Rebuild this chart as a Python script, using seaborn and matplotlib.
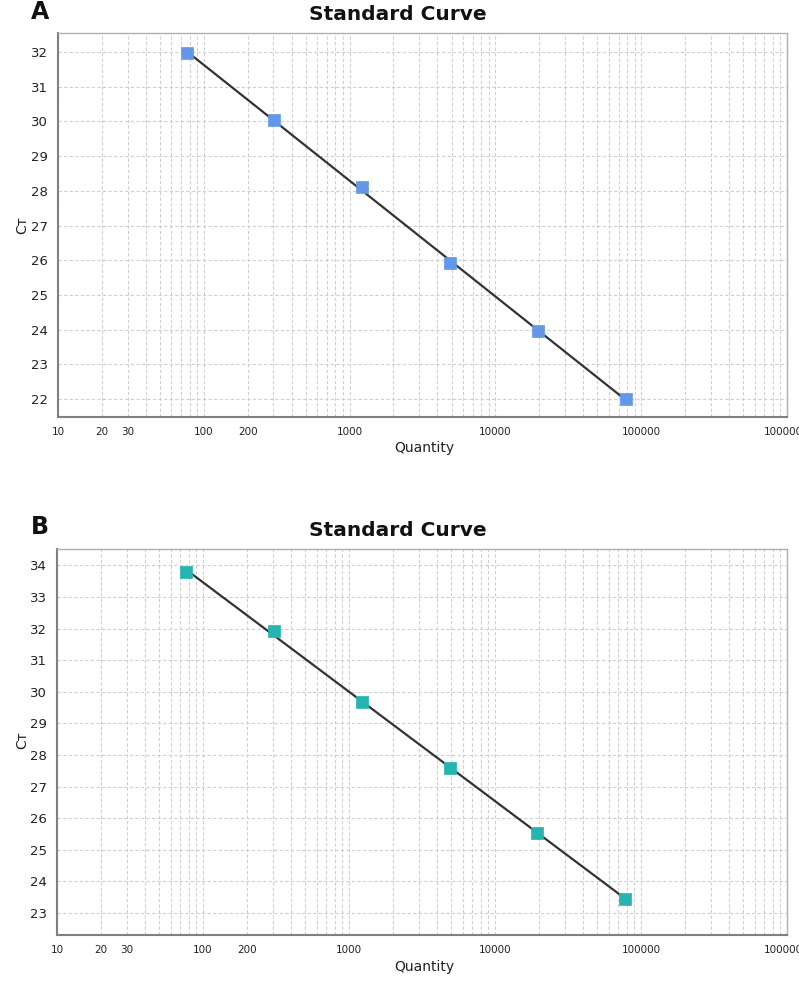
import numpy as np
import pandas as pd
import matplotlib
matplotlib.use("Agg")
import matplotlib.pyplot as plt
import seaborn as sns
from matplotlib.ticker import FixedLocator, LogLocator, NullFormatter, FixedFormatter

# ---- data ----
quantity = [76.3, 305.2, 1220.7, 4882.8, 19531.25, 78125.0]
ct_a = [31.97, 30.05, 28.10, 25.92, 23.95, 22.00]
ct_b = [33.78, 31.93, 29.68, 27.60, 25.52, 23.45]
x_tick_values = [10, 20, 30, 100, 200, 1000, 10000, 100000, 1000000]
x_tick_labels = ["10", "20", "30", "100", "200", "1000", "10000", "100000", "1000000"]
y_ticks_a = list(range(22, 33))
y_ticks_b = list(range(23, 35))

sns.set_style("white")
plt.rcParams['font.family'] = ['DejaVu Sans']

W, H = 799, 983
fig = plt.figure(figsize=(W / 100, H / 100), dpi=100)

def px_box(l, t, r, b):
    return [l / W, 1 - b / H, (r - l) / W, (b - t) / H]

panels = [
    dict(box=px_box(58, 33, 787, 417), ct=ct_a, color="#6497EA", ylim=(21.48, 32.55),
         yticks=y_ticks_a, label="A", label_y=12, title_y=15, xlabel_y=448, ylabel_y=225),
    dict(box=px_box(57, 549, 787, 935), ct=ct_b, color="#26B5AE", ylim=(22.3, 34.52),
         yticks=y_ticks_b, label="B", label_y=527, title_y=530, xlabel_y=967, ylabel_y=740),
]

for p in panels:
    ax = fig.add_axes(p["box"])
    df = pd.DataFrame({"Quantity": quantity, "CT": p["ct"]})
    # regression line through the standards
    slope, intercept = np.polyfit(np.log10(df["Quantity"]), df["CT"], 1)
    fit = pd.DataFrame({"Quantity": [df["Quantity"].min(), df["Quantity"].max()]})
    fit["CT"] = slope * np.log10(fit["Quantity"]) + intercept
    ax.set_xscale("log")
    sns.lineplot(data=fit, x="Quantity", y="CT", ax=ax, color="#333333", linewidth=1.6, zorder=3)
    sns.scatterplot(data=df, x="Quantity", y="CT", ax=ax, marker="s", s=85,
                    color=p["color"], edgecolor=p["color"], linewidth=0.5, zorder=4)
    ax.set_xlim(10, 1000000)
    ax.set_ylim(*p["ylim"])
    ax.xaxis.set_major_locator(FixedLocator(x_tick_values))
    ax.xaxis.set_major_formatter(FixedFormatter(x_tick_labels))
    ax.xaxis.set_minor_locator(LogLocator(base=10, subs=np.arange(2, 10), numticks=20))
    ax.xaxis.set_minor_formatter(NullFormatter())
    ax.yaxis.set_major_locator(FixedLocator(p["yticks"]))
    ax.grid(True, which="both", axis="x", color="#cfcfcf", linestyle=(0, (3, 2)), linewidth=0.8)
    ax.grid(True, which="major", axis="y", color="#cfcfcf", linestyle=(0, (3, 2)), linewidth=0.8)
    ax.set_axisbelow(True)
    for side in ["left", "bottom"]:
        ax.spines[side].set_color("#808080")
        ax.spines[side].set_linewidth(1.5)
    for side in ["top", "right"]:
        ax.spines[side].set_color("#b0b0b0")
        ax.spines[side].set_linewidth(1.0)
    ax.tick_params(axis="x", which="major", length=4, width=1, color="#808080",
                   labelsize=7.5, labelcolor="#222222", pad=3)
    ax.tick_params(axis="x", which="minor", length=0)
    ax.tick_params(axis="y", which="major", length=4, width=1, color="#808080",
                   labelsize=9.5, labelcolor="#222222", pad=3)
    ax.set_xlabel("")
    ax.set_ylabel("")
    fig.text(424 / W, 1 - p["xlabel_y"] / H, "Quantity", ha="center", va="center",
             fontsize=10, color="#222222")
    fig.text(22 / W, 1 - p["ylabel_y"] / H, "Cᴛ", ha="center", va="center",
             fontsize=10, color="#222222", rotation=90)
    fig.text(398 / W, 1 - p["title_y"] / H, "Standard Curve", ha="center", va="center",
             fontsize=14.5, fontweight="bold", color="#111111")
    fig.text(40 / W, 1 - p["label_y"] / H, p["label"], ha="center", va="center",
             fontsize=17, fontweight="bold", color="#111111")

fig.savefig("out.png", dpi=100, facecolor="white")
